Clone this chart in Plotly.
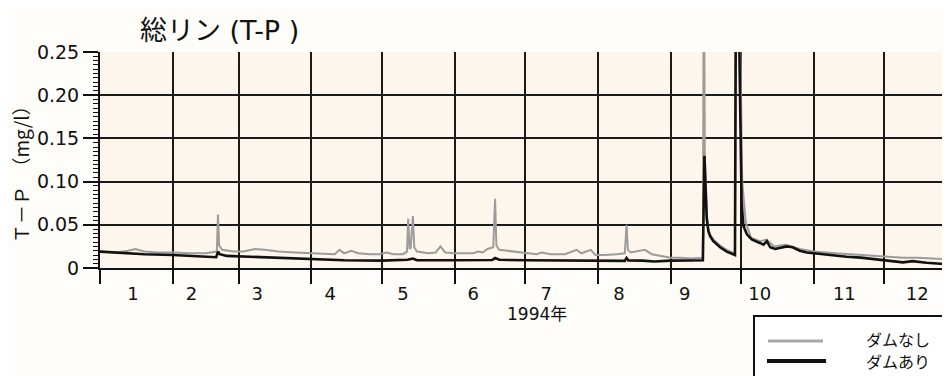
import plotly.graph_objects as go

# ---------------- data ----------------
month_labels = ["1", "2", "3", "4", "5", "6", "7", "8", "9", "10", "11", "12"]
month_label_dates = ["1994-01-15", "1994-02-09", "1994-03-09", "1994-04-09", "1994-05-10", "1994-06-09",
                     "1994-07-10", "1994-08-10", "1994-09-07", "1994-10-09", "1994-11-14", "1994-12-15"]
y_tick_vals = [0, 0.05, 0.10, 0.15, 0.20, 0.25]
y_tick_text = ["0", "0.05", "0.10", "0.15", "0.20", "0.25"]

# ダムなし (grey)
nashi_dates = [
    "1994-01-01", "1994-01-08", "1994-01-13", "1994-01-16", "1994-01-20", "1994-01-26",
    "1994-02-01", "1994-02-08", "1994-02-15", "1994-02-19 18:00", "1994-02-20 06:00", "1994-02-20 18:00",
    "1994-02-22", "1994-02-27", "1994-03-03", "1994-03-08", "1994-03-12", "1994-03-18", "1994-03-25",
    "1994-04-01", "1994-04-08", "1994-04-11", "1994-04-13", "1994-04-15", "1994-04-18", "1994-04-21",
    "1994-04-26", "1994-04-30", "1994-05-03", "1994-05-06", "1994-05-10", "1994-05-11 18:00",
    "1994-05-12 06:00", "1994-05-12 20:00", "1994-05-13 06:00", "1994-05-14 06:00", "1994-05-14 20:00",
    "1994-05-16", "1994-05-21", "1994-05-24", "1994-05-26", "1994-05-28", "1994-06-01", "1994-06-06",
    "1994-06-09", "1994-06-11", "1994-06-13", "1994-06-15", "1994-06-17 12:00", "1994-06-18 06:00",
    "1994-06-18 20:00", "1994-06-20", "1994-06-26", "1994-07-01", "1994-07-06", "1994-07-08",
    "1994-07-12", "1994-07-18", "1994-07-23", "1994-07-25", "1994-07-29", "1994-07-31", "1994-08-04",
    "1994-08-09", "1994-08-12 12:00", "1994-08-13 06:00", "1994-08-13 20:00", "1994-08-15", "1994-08-21",
    "1994-08-24", "1994-08-28", "1994-09-01", "1994-09-05", "1994-09-10", "1994-09-14 18:00",
    "1994-09-15 04:00", "1994-09-15 14:00", "1994-09-16 10:00", "1994-09-17 02:00", "1994-09-17 19:00",
    "1994-09-19 05:00", "1994-09-22 02:00", "1994-09-24 22:00", "1994-09-27 02:00", "1994-09-28 10:00",
    "1994-09-28 22:00", "1994-09-30 12:00", "1994-10-01 12:00", "1994-10-02 12:00", "1994-10-03",
    "1994-10-04", "1994-10-05 06:00", "1994-10-09", "1994-10-12", "1994-10-15", "1994-10-20",
    "1994-10-26", "1994-11-01", "1994-11-10", "1994-11-20", "1994-11-26", "1994-12-01", "1994-12-09",
    "1994-12-15", "1994-12-22", "1994-12-29",
]
nashi_vals = [
    0.019, 0.018, 0.020, 0.022, 0.019, 0.018,
    0.018, 0.017, 0.017, 0.019, 0.062, 0.026,
    0.021, 0.019, 0.019, 0.022, 0.021, 0.019, 0.018,
    0.017, 0.016, 0.016, 0.021, 0.017, 0.020, 0.017,
    0.016, 0.016, 0.018, 0.016, 0.016, 0.019,
    0.057, 0.023, 0.022, 0.060, 0.024,
    0.019, 0.017, 0.018, 0.025, 0.018, 0.017, 0.017,
    0.017, 0.019, 0.018, 0.022, 0.024, 0.080,
    0.026, 0.021, 0.019, 0.017, 0.016, 0.018,
    0.016, 0.016, 0.021, 0.017, 0.021, 0.015, 0.015,
    0.016, 0.017, 0.050, 0.021, 0.018, 0.021,
    0.016, 0.014, 0.012, 0.012, 0.011, 0.012,
    0.400, 0.130, 0.060, 0.045, 0.039,
    0.033, 0.026, 0.021, 0.018, 0.017,
    0.400, 0.300, 0.100, 0.063, 0.053,
    0.045, 0.035, 0.031, 0.033, 0.025, 0.027,
    0.022, 0.019, 0.017, 0.015, 0.014, 0.013, 0.012,
    0.012, 0.011, 0.010,
]

# ダムあり (black)
ari_dates = [
    "1994-01-01", "1994-01-10", "1994-01-20", "1994-02-01", "1994-02-10", "1994-02-19 12:00",
    "1994-02-20 06:00", "1994-02-21", "1994-02-24", "1994-03-05", "1994-03-15", "1994-04-01",
    "1994-04-15", "1994-05-01", "1994-05-12", "1994-05-14 06:00", "1994-05-16", "1994-06-01",
    "1994-06-17", "1994-06-18 06:00", "1994-06-20", "1994-07-01", "1994-07-15", "1994-08-01",
    "1994-08-12 12:00", "1994-08-13 06:00", "1994-08-14", "1994-08-20", "1994-08-25", "1994-09-01",
    "1994-09-07", "1994-09-12", "1994-09-14 18:00", "1994-09-15 10:00", "1994-09-16 10:00",
    "1994-09-17 02:00", "1994-09-17 19:00", "1994-09-19 05:00", "1994-09-22 02:00", "1994-09-24 22:00",
    "1994-09-27 02:00", "1994-09-28 10:00", "1994-09-28 22:00", "1994-09-30 06:00", "1994-10-01 06:00",
    "1994-10-02", "1994-10-03 12:00", "1994-10-05 14:00", "1994-10-09", "1994-10-10 14:00",
    "1994-10-12", "1994-10-13 10:00", "1994-10-15 12:00", "1994-10-20 12:00", "1994-10-23",
    "1994-10-26", "1994-10-29", "1994-11-01", "1994-11-05", "1994-11-11", "1994-11-15",
    "1994-11-21", "1994-11-26", "1994-12-01", "1994-12-05", "1994-12-09", "1994-12-13",
    "1994-12-19", "1994-12-25", "1994-12-29",
]
ari_vals = [
    0.019, 0.0175, 0.016, 0.015, 0.0135, 0.0125,
    0.019, 0.016, 0.014, 0.013, 0.012, 0.0098,
    0.009, 0.0085, 0.0095, 0.011, 0.009, 0.009,
    0.0092, 0.0115, 0.0095, 0.009, 0.0085, 0.0083,
    0.0082, 0.0115, 0.0088, 0.0085, 0.0075, 0.0085,
    0.009, 0.0088, 0.009, 0.130, 0.057,
    0.043, 0.037, 0.031, 0.024, 0.019,
    0.016, 0.015, 0.400, 0.260, 0.075,
    0.049, 0.039, 0.033, 0.029, 0.027,
    0.031, 0.024, 0.022, 0.025, 0.024,
    0.020, 0.018, 0.017, 0.016, 0.0145, 0.013,
    0.012, 0.0105, 0.0097, 0.008, 0.0065, 0.008,
    0.006, 0.005, 0.004,
]

# page has an 8px body margin: shrink the figure so the plot lands where the reference has it
OFF = 8
SCR_W, SCR_H = 950, 376
PL, PT, PB = 100, 52, 268          # plot area edges in screen pixels
W, H = SCR_W - OFF, SCR_H - OFF
PH = PB - PT
PW = SCR_W - PL


def px(x):
    return (x - PL) / PW


def py(y):
    return (PB - y) / PH


JP = "Noto Sans CJK JP"
LAT = "DejaVu Sans, Noto Sans CJK JP"

fig = go.Figure()
fig.add_trace(go.Scatter(x=nashi_dates, y=nashi_vals, mode="lines", name="ダムなし",
                         line=dict(color="#9c9c9c", width=2), showlegend=False))
fig.add_trace(go.Scatter(x=ari_dates, y=ari_vals, mode="lines", name="ダムあり",
                         line=dict(color="#111111", width=2.6), showlegend=False))

fig.update_layout(
    width=W, height=H,
    margin=dict(l=PL - OFF, r=0, t=PT - OFF, b=SCR_H - PB),
    paper_bgcolor="#fffdf9",
    plot_bgcolor="#fcf6ec",
    font=dict(family=LAT, color="#111111"),
    showlegend=False,
)
fig.update_xaxes(
    type="date", range=["1994-01-01", "1994-12-29"],
    tickmode="array", tickvals=month_label_dates, ticktext=month_labels,
    ticks="outside", ticklen=8, tickcolor="rgba(0,0,0,0)", showgrid=False,
    tickfont=dict(size=18, family=LAT, color="#111"),
    showline=True, linecolor="#111", linewidth=2,
    minor=dict(tickmode="linear", dtick="M1", tick0="1994-01-01", ticks="outside", ticklen=14,
               tickwidth=2, tickcolor="#111", showgrid=True, gridcolor="#1a1a1a", gridwidth=2),
    zeroline=False,
)
fig.update_yaxes(
    range=[0, 0.25], tickmode="array", tickvals=y_tick_vals, ticktext=y_tick_text,
    ticks="outside", ticklen=15, tickwidth=2, tickcolor="#111",
    tickfont=dict(size=19, family=LAT, color="#111"),
    showgrid=True, gridcolor="#1a1a1a", gridwidth=2,
    showline=True, linecolor="#111", linewidth=2,
    minor=dict(tickmode="linear", dtick=0.005, tick0=0, ticks="outside", ticklen=5, tickwidth=1,
               tickcolor="#111", showgrid=False),
    zeroline=False,
)

annotations = [
    dict(text="総リン (T-P )", x=px(219), y=py(30), xref="paper", yref="paper",
         showarrow=False, font=dict(size=27, family=LAT, color="#111"), xanchor="center", yanchor="middle"),
    dict(text="Ｔ－Ｐ　（mg/l）", x=px(20), y=py(170), xref="paper", yref="paper", textangle=-90,
         showarrow=False, font=dict(size=19, family=JP, color="#111"), xanchor="center", yanchor="middle"),
    dict(text="1994年", x=px(537), y=py(314), xref="paper", yref="paper",
         showarrow=False, font=dict(size=17, family=LAT, color="#111"), xanchor="center", yanchor="middle"),
    dict(text="ダムなし", x=px(864), y=py(339), xref="paper", yref="paper",
         showarrow=False, font=dict(size=16, family=JP, color="#111"), xanchor="left", yanchor="middle"),
    dict(text="ダムあり", x=px(864), y=py(361), xref="paper", yref="paper",
         showarrow=False, font=dict(size=16, family=JP, color="#111"), xanchor="left", yanchor="middle"),
]
shapes = [
    dict(type="rect", xref="paper", yref="paper", x0=px(754), x1=px(965), y0=py(316), y1=py(395),
         line=dict(color="#111", width=2), fillcolor="#ffffff", layer="above"),
    dict(type="line", xref="paper", yref="paper", x0=px(768), x1=px(823), y0=py(341), y1=py(341),
         line=dict(color="#a8a8a8", width=3)),
    dict(type="line", xref="paper", yref="paper", x0=px(767), x1=px(826), y0=py(361), y1=py(361),
         line=dict(color="#111", width=4)),
]
fig.update_layout(annotations=annotations, shapes=shapes)

fig.write_html("out.html")
